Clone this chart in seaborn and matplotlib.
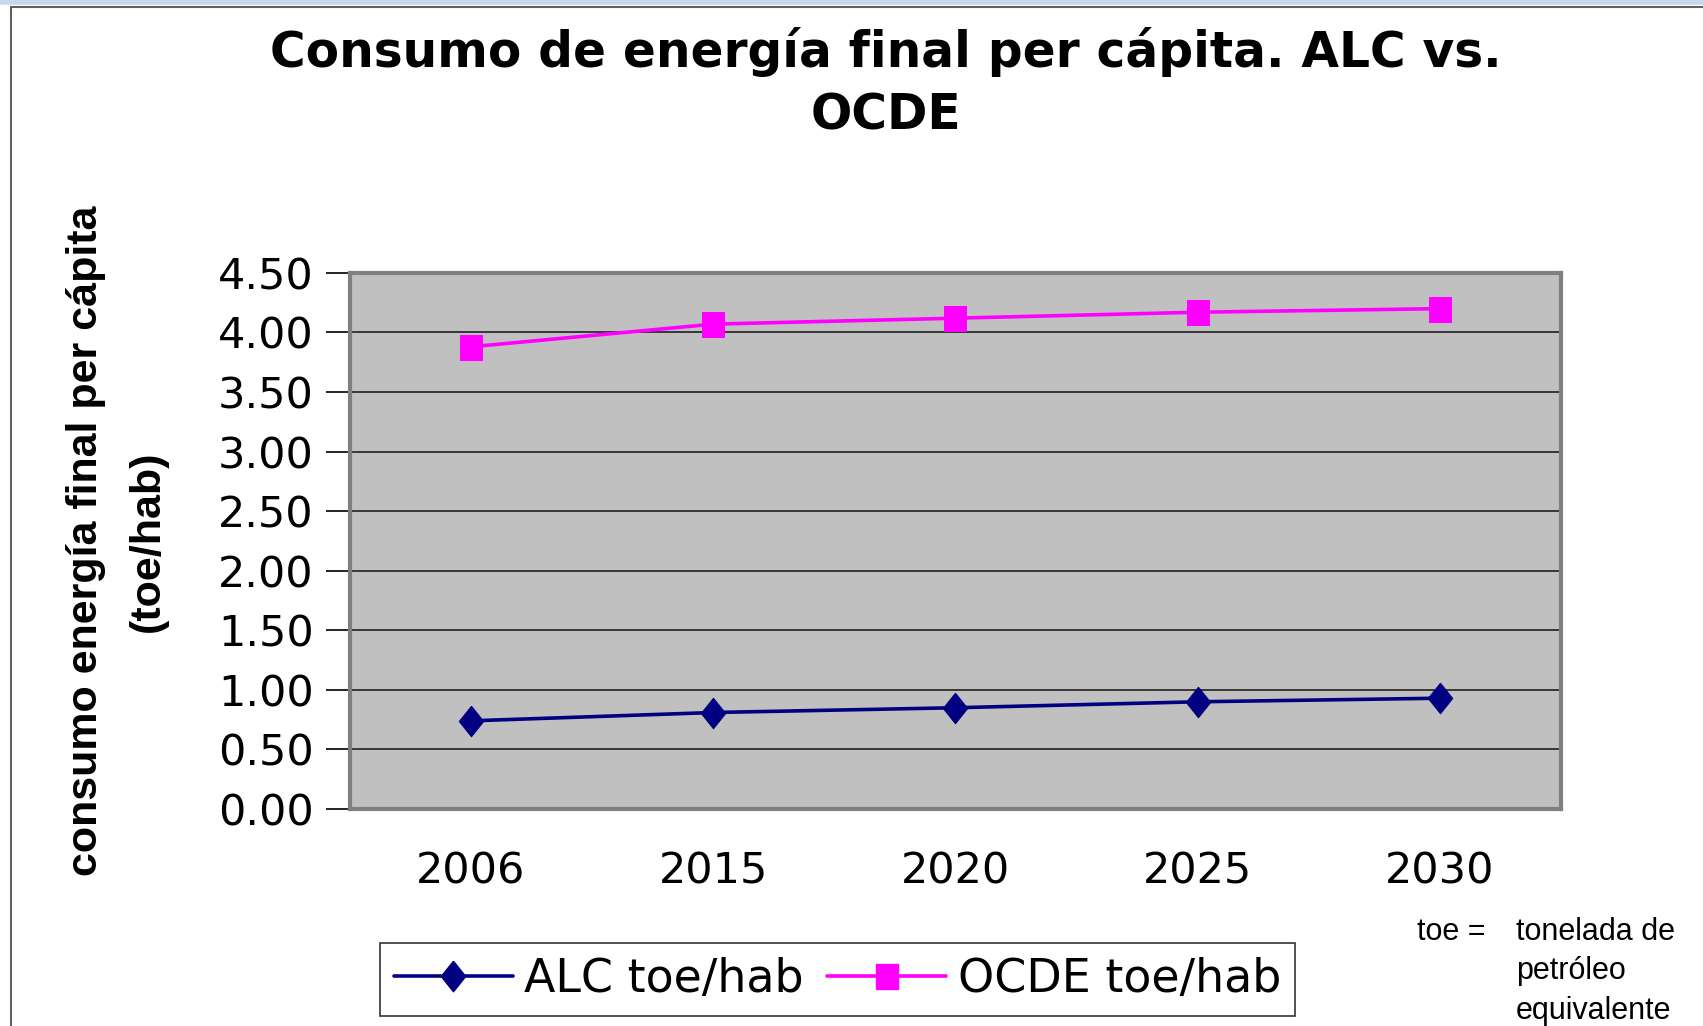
import pandas as pd
import matplotlib.pyplot as plt
import seaborn as sns
from matplotlib.lines import Line2D

# datos
years = ["2006", "2015", "2020", "2025", "2030"]
alc = [0.74, 0.81, 0.85, 0.90, 0.93]
ocde = [3.88, 4.07, 4.12, 4.17, 4.20]
y_ticks = [0.0, 0.5, 1.0, 1.5, 2.0, 2.5, 3.0, 3.5, 4.0, 4.5]

df = pd.DataFrame({"year": years, "alc": alc, "ocde": ocde})

sns.set_style("white")
plt.rcParams["font.family"] = ["Liberation Sans", "DejaVu Sans"]
plt.rcParams["text.color"] = "black"
plt.rcParams["xtick.color"] = "black"
plt.rcParams["ytick.color"] = "black"
plt.rcParams["axes.labelcolor"] = "black"

fig = plt.figure(figsize=(17.03, 10.26), dpi=100)
ax = fig.add_axes([0.2055, 0.2115, 0.711, 0.5225])
ax.set_facecolor("#C0C0C0")

diamond = [(0, 1), (0.8, 0), (0, -1), (-0.8, 0), (0, 1)]
square = [(-0.5, -0.55), (0.5, -0.55), (0.5, 0.55), (-0.5, 0.55), (-0.5, -0.55)]

sns.lineplot(data=df, x="year", y="alc", ax=ax, color="#000080", lw=2.6,
             marker=diamond, markersize=22, markeredgecolor="#000080", sort=False)
sns.lineplot(data=df, x="year", y="ocde", ax=ax, color="#FF00FF", lw=2.6,
             marker=square, markersize=18, markeredgecolor="#FF00FF", sort=False)

ax.set_xlim(-0.5, len(years) - 0.5)
ax.set_ylim(0, 4.5)
ax.set_yticks(y_ticks)
ax.set_yticklabels([f"{v:.2f}" for v in y_ticks], fontsize=31, family="DejaVu Sans")
ax.yaxis.grid(True, color="#202020", lw=1.2)
ax.xaxis.grid(False)
ax.set_axisbelow(True)

# ticks del eje x en los limites de categoria
ax.set_xticks([i - 0.5 for i in range(len(years) + 1)], minor=False)
ax.set_xticklabels([])
ax.set_xticks(range(len(years)), minor=True)
ax.set_xticklabels(years, minor=True, fontsize=31, family="DejaVu Sans")
ax.tick_params(axis="x", which="major", direction="out", length=10, width=1, color="#404040")
ax.tick_params(axis="x", which="minor", length=0, pad=30)
ax.tick_params(axis="y", direction="out", length=17, width=1.2, color="black", pad=9, left=True)

ax.set_xlabel("")
ax.set_ylabel("consumo energía final per cápita\n(toe/hab)", fontsize=31,
              fontweight="bold", labelpad=36, linespacing=1.7)

for s in ["top", "right", "left", "bottom"]:
    ax.spines[s].set_color("#808080")
    ax.spines[s].set_linewidth(3)

fig.text(0.52, 0.974, "Consumo de energía final per cápita. ALC vs.\nOCDE",
         ha="center", va="top", fontsize=35, fontweight="bold",
         family="DejaVu Sans", linespacing=1.4)

handles = [
    Line2D([], [], color="#000080", lw=2.6, marker=diamond, markersize=22),
    Line2D([], [], color="#FF00FF", lw=2.6, marker=square, markersize=18),
]
leg = fig.legend(handles, ["ALC toe/hab", "OCDE toe/hab"], ncol=2,
                 loc="center", bbox_to_anchor=(0.4917, 0.0455),
                 prop={"family": "DejaVu Sans", "size": 33},
                 frameon=True, fancybox=False, edgecolor="black",
                 handlelength=2.6, handletextpad=0.25, columnspacing=0.5,
                 borderpad=0.3)
leg.get_frame().set_linewidth(1.2)

fig.text(0.832, 0.106, "toe =", fontsize=22, va="top")
fig.text(0.890, 0.106, "tonelada de\npetróleo\nequivalente", fontsize=22,
         va="top", linespacing=1.4)

# marco de la diapositiva
fig.add_artist(Line2D([0.0065, 0.0065], [0, 0.993], color="#606060", lw=1.5,
                      transform=fig.transFigure))
fig.add_artist(Line2D([0.0065, 1], [0.993, 0.993], color="#606060", lw=1.5,
                      transform=fig.transFigure))
fig.add_artist(Line2D([0.0, 1], [0.998, 0.998], color="#C8D8EC", lw=4,
                      transform=fig.transFigure))

fig.savefig("out.png", dpi=100)
